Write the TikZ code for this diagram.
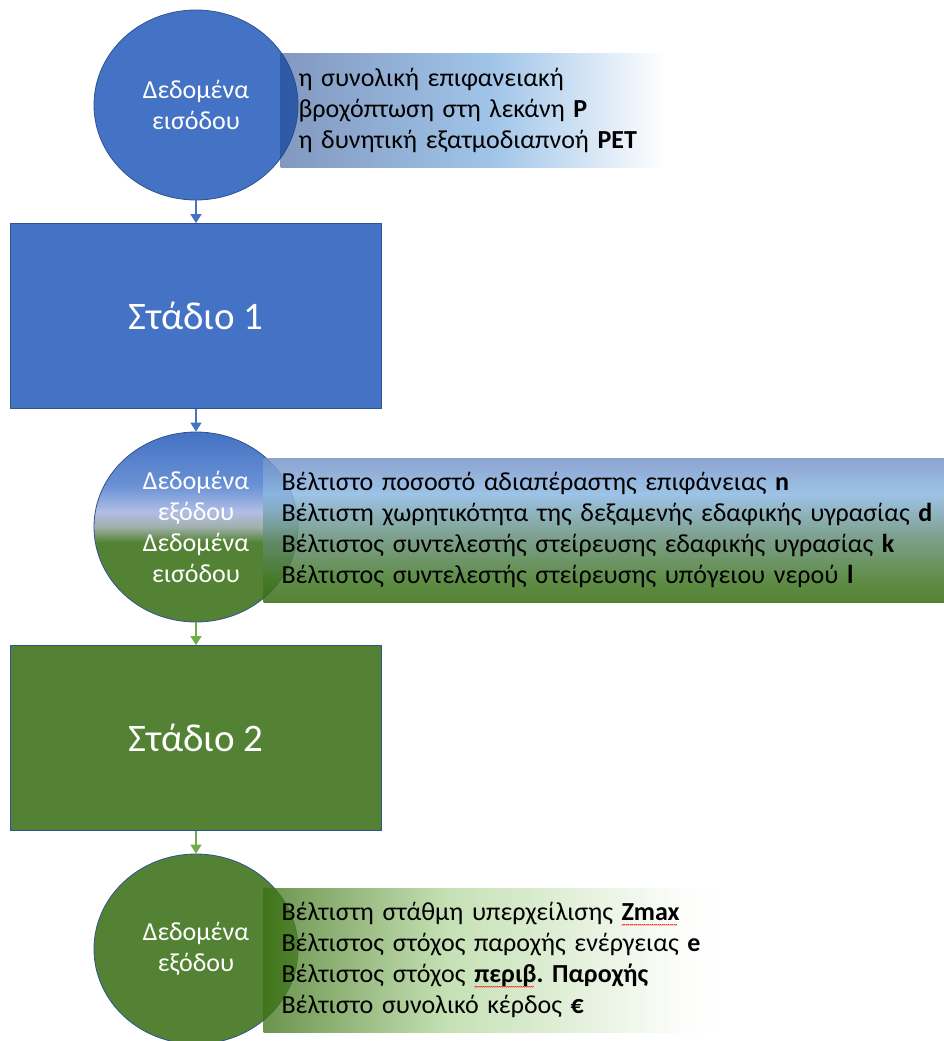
\documentclass[tikz,border=0pt]{standalone}
\usepackage{fontspec}
\setmainfont{Carlito}
\usetikzlibrary{arrows.meta,positioning,shapes.geometric}

\definecolor{stageblue}{HTML}{4472C4}
\definecolor{stagegreen}{HTML}{548235}
\definecolor{edgeblue}{HTML}{2F528F}
\definecolor{arrowgreen}{HTML}{70AD47}
% colours of the fades (already corrected for the fill opacity)
\definecolor{topA}{RGB}{28,68,140}
\definecolor{topB}{RGB}{82,148,213}
\definecolor{midA}{RGB}{120,147,200}
\definecolor{midB}{RGB}{140,184,226}
\definecolor{midC}{RGB}{102,143,120}
\definecolor{midD}{RGB}{67,120,37}
\definecolor{midE}{RGB}{54,108,17}
\definecolor{lowA}{RGB}{58,112,18}
\definecolor{lowB}{RGB}{178,214,155}
\definecolor{lowC}{RGB}{250,252,248}
\definecolor{ballA}{RGB}{105,145,212}
\definecolor{ballB}{RGB}{176,190,230}
\definecolor{ballC}{RGB}{160,176,170}

\pgfdeclarehorizontalshading{topfade}{100bp}{color(0bp)=(topA); color(25bp)=(topA);
  color(52.5bp)=(topB); color(75bp)=(white); color(100bp)=(white)}
\pgfdeclareverticalshading{midfade}{100bp}{color(0bp)=(midE); color(25bp)=(midE);
  color(32.5bp)=(midD); color(47.5bp)=(midC); color(62.5bp)=(midB); color(75bp)=(midA);
  color(100bp)=(midA)}
\pgfdeclarehorizontalshading{lowfade}{100bp}{color(0bp)=(lowA); color(25bp)=(lowA);
  color(45bp)=(lowB); color(70bp)=(lowC); color(75bp)=(white); color(100bp)=(white)}
\pgfdeclareverticalshading{midball}{100bp}{color(0bp)=(stagegreen); color(46bp)=(stagegreen);
  color(50bp)=(ballC); color(54bp)=(ballB); color(61bp)=(ballA); color(75bp)=(stageblue);
  color(100bp)=(stageblue)}

% red spelling wave under a word
\newcommand\spellwave[1]{\setbox0\hbox{#1}\rlap{\raisebox{-7pt}{\color{red}\hbox to \wd0{%
  \leaders\hbox{\fontsize{8}{8}\selectfont\char"007E}\hfill}}}#1}

\begin{document}
\begin{tikzpicture}[x=1pt, y=1pt, node distance=211pt, >={Triangle[width=11pt,length=9pt]},
    font=\fontsize{26}{31}\selectfont]

    \tikzstyle{ball}=[ellipse, draw=edgeblue, line width=0.8pt, minimum width=204pt,
                      minimum height=190pt, inner sep=0pt, text=white, align=center]
    \tikzstyle{stagebox}=[rectangle, draw=edgeblue, line width=0.8pt, minimum width=371pt,
                      minimum height=185pt, text=white, font=\fontsize{39}{46}\selectfont]
    \tikzstyle{infobox}=[rectangle, inner xsep=18pt, align=left, text=black, text opacity=1]
    \tikzstyle{flow}=[->, line width=1.5pt]

    \useasboundingbox (0,0) rectangle (944,-1041);

    \node[ball, fill=stageblue]      (in1)              at (196,-105) {Δεδομένα\\εισόδου};
    \node[stagebox, fill=stageblue]  (st1) [below of=in1] {Στάδιο 1};
    \node[ball, shading=midball]     (mid) [below of=st1] {Δεδομένα\\εξόδου\\Δεδομένα\\εισόδου};
    \node[stagebox, fill=stagegreen] (st2) [below of=mid] {Στάδιο 2};
    \node[ball, fill=stagegreen]     (out) [below of=st2] {Δεδομένα\\εξόδου};

    \node[infobox, shading=topfade, fill opacity=0.55, minimum height=113pt, text width=348pt]
        (inlist) [right=-18pt of in1, yshift=-5.5pt]
        {η συνολική επιφανειακή\\
         βροχόπτωση στη λεκάνη \textbf{P}\\
         η δυνητική εξατμοδιαπνοή \textbf{PET}};
    \node[infobox, shading=midfade, fill opacity=0.85, minimum height=144pt, text width=664pt]
        (midlist) [right=-35pt of mid, yshift=-3pt]
        {Βέλτιστο ποσοστό αδιαπέραστης επιφάνειας \textbf{n}\\
         Βέλτιστη χωρητικότητα της δεξαμενής εδαφικής υγρασίας \textbf{d}\\
         Βέλτιστος συντελεστής στείρευσης εδαφικής υγρασίας \textbf{k}\\
         Βέλτιστος συντελεστής στείρευσης υπόγειου νερού \textbf{l}};
    \node[infobox, shading=lowfade, fill opacity=0.75, minimum height=144pt, text width=424pt]
        (outlist) [right=-35pt of out, yshift=-11pt]
        {Βέλτιστη στάθμη υπερχείλισης \textbf{\spellwave{Zmax}}\\
         Βέλτιστος στόχος παροχής ενέργειας \textbf{e}\\
         Βέλτιστος στόχος \textbf{\spellwave{περιβ}.\ Παροχής}\\
         Βέλτιστο συνολικό κέρδος \textbf{€}};

    \draw[flow, stageblue]  (in1) -- (st1);
    \draw[flow, stageblue]  (st1) -- (mid);
    \draw[flow, arrowgreen] (mid) -- (st2);
    \draw[flow, arrowgreen] (st2) -- (out);
\end{tikzpicture}
\end{document}
